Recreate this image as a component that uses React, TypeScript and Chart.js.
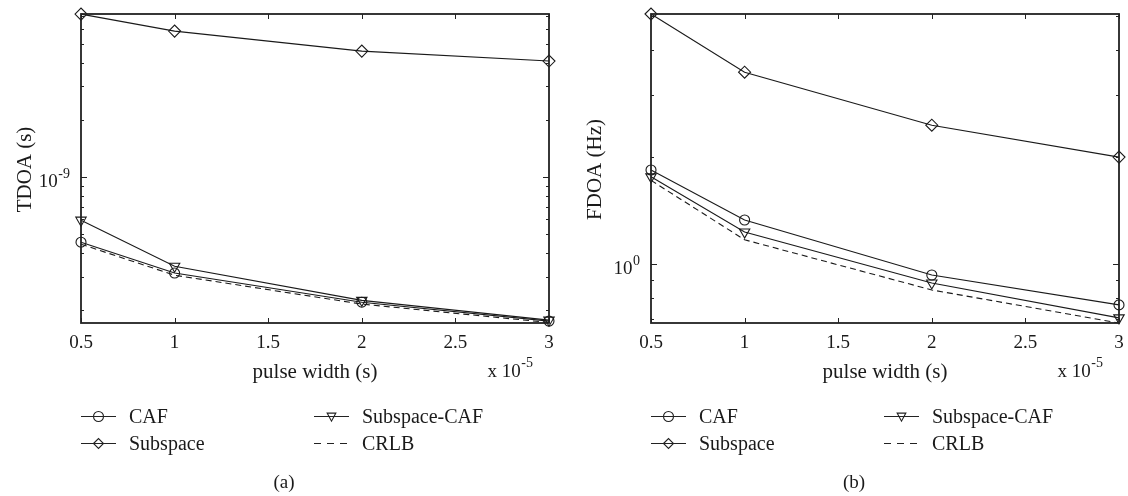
import React, { useEffect, useRef } from 'react';
import { Chart, registerables } from 'chart.js';

Chart.register(...registerables);

// ---------- data ----------
const pulseWidths = [0.5, 1, 2, 3]; // x 10^-5 s
const xTicks = [0.5, 1, 1.5, 2, 2.5, 3];
const xTickLabels = ['0.5', '1', '1.5', '2', '2.5', '3'];

const tdoaCAF = [4.55e-10, 3.13e-10, 2.2e-10, 1.75e-10];
const tdoaSubspace = [7.2e-9, 5.86e-9, 4.6e-9, 4.08e-9];
const tdoaSubspaceCAF = [5.94e-10, 3.4e-10, 2.25e-10, 1.77e-10];
const tdoaCRLB = [4.44e-10, 3.05e-10, 2.15e-10, 1.72e-10];

const fdoaCAF = [1.84, 1.33, 0.931, 0.767];
const fdoaSubspace = [5.06, 3.47, 2.46, 2.0];
const fdoaSubspaceCAF = [1.76, 1.23, 0.884, 0.705];
const fdoaCRLB = [1.72, 1.17, 0.845, 0.682];

const tdoaRange = [1.71e-10, 7.21e-9];
const fdoaRange = [0.682, 5.06];
const tdoaMajor = [1e-9];
const tdoaMajorExp = ['-9'];
const tdoaMinor = [2e-10, 3e-10, 4e-10, 5e-10, 6e-10, 7e-10, 8e-10, 9e-10, 2e-9, 3e-9, 4e-9, 5e-9, 6e-9, 7e-9];
const fdoaMajor = [1];
const fdoaMajorExp = ['0'];
const fdoaMinor = [0.7, 0.8, 0.9, 2, 3, 4, 5];

const seriesNames = ['CAF', 'Subspace', 'Subspace-CAF', 'CRLB'];
const xTitle = 'pulse width (s)';

const FONT = '"Liberation Serif", "Times New Roman", serif';
const INK = '#1a1a1a';

type PanelProps = {
  values: number[][];
  range: number[];
  major: number[];
  majorExp: string[];
  minor: number[];
  yTitle: string;
  caption: string;
  padLeft: number;
  padRight: number;
};

function drawMarker(ctx: CanvasRenderingContext2D, kind: string, x: number, y: number, r: number) {
  ctx.beginPath();
  if (kind === 'circle') {
    ctx.arc(x, y, r, 0, Math.PI * 2);
  } else if (kind === 'diamond') {
    ctx.moveTo(x - r, y);
    ctx.lineTo(x, y - r);
    ctx.lineTo(x + r, y);
    ctx.lineTo(x, y + r);
    ctx.closePath();
  } else if (kind === 'triangle') {
    const h = r * 1.5;
    ctx.moveTo(x - r * 0.87, y - h / 2.2);
    ctx.lineTo(x + r * 0.87, y - h / 2.2);
    ctx.lineTo(x, y + h / 1.6);
    ctx.closePath();
  }
  ctx.stroke();
}

function Panel(props: PanelProps) {
  const ref = useRef<HTMLCanvasElement | null>(null);

  useEffect(() => {
    if (!ref.current) return;
    const { values, range, major, majorExp, minor, yTitle, caption, padLeft, padRight } = props;
    const mk = (arr: number[]) => pulseWidths.map((x, i) => ({ x, y: arr[i] }));

    const base = {
      borderColor: INK,
      borderWidth: 1.1,
      pointBorderColor: INK,
      pointBackgroundColor: 'rgba(0,0,0,0)',
      pointBorderWidth: 1.1,
      pointRadius: 5,
      tension: 0,
      clip: false as const,
    };

    const decor = {
      id: 'decor',
      afterDraw(chart: any) {
        const { ctx, chartArea: a } = chart;
        const xs = chart.scales.x;
        const ys = chart.scales.y;
        ctx.save();
        ctx.strokeStyle = '#222';
        ctx.fillStyle = INK;
        // frame
        ctx.lineWidth = 1.8;
        ctx.strokeRect(a.left, a.top, a.right - a.left, a.bottom - a.top);
        ctx.lineWidth = 1;
        // x ticks
        ctx.font = `19px ${FONT}`;
        ctx.textAlign = 'center';
        ctx.textBaseline = 'middle';
        xTicks.forEach((v, i) => {
          const px = Math.round(xs.getPixelForValue(v)) + 0.5;
          ctx.beginPath();
          ctx.moveTo(px, a.bottom);
          ctx.lineTo(px, a.bottom - 5);
          ctx.moveTo(px, a.top);
          ctx.lineTo(px, a.top + 5);
          ctx.stroke();
          ctx.fillText(xTickLabels[i], xs.getPixelForValue(v), a.bottom + 20);
        });
        // y minor ticks
        minor.forEach((v) => {
          const py = Math.round(ys.getPixelForValue(v)) + 0.5;
          if (py < a.top + 1 || py > a.bottom - 1) return;
          ctx.beginPath();
          ctx.moveTo(a.left, py);
          ctx.lineTo(a.left + 3, py);
          ctx.moveTo(a.right, py);
          ctx.lineTo(a.right - 3, py);
          ctx.stroke();
        });
        // y major ticks + labels
        major.forEach((v, i) => {
          const py = Math.round(ys.getPixelForValue(v)) + 0.5;
          ctx.beginPath();
          ctx.moveTo(a.left, py);
          ctx.lineTo(a.left + 6, py);
          ctx.moveTo(a.right, py);
          ctx.lineTo(a.right - 6, py);
          ctx.stroke();
          ctx.font = `14px ${FONT}`;
          const ws = ctx.measureText(majorExp[i]).width;
          const right = a.left - 11;
          ctx.textAlign = 'right';
          ctx.fillText(majorExp[i], right, py - 3);
          ctx.font = `19px ${FONT}`;
          ctx.fillText('10', right - ws - 0.5, py + 5);
        });
        // x title + exponent
        ctx.textAlign = 'center';
        ctx.font = `21px ${FONT}`;
        ctx.fillText(xTitle, (a.left + a.right) / 2, a.bottom + 49);
        ctx.font = `14px ${FONT}`;
        const wsup = ctx.measureText('-5').width;
        ctx.textAlign = 'right';
        const xr = a.right - 16;
        ctx.fillText('-5', xr, a.bottom + 40);
        ctx.font = `19px ${FONT}`;
        ctx.fillText('x 10', xr - wsup - 0.5, a.bottom + 49);
        // y title
        ctx.save();
        ctx.translate(a.left - 56, (a.top + a.bottom) / 2 + 1);
        ctx.rotate(-Math.PI / 2);
        ctx.textAlign = 'center';
        ctx.font = `21px ${FONT}`;
        ctx.fillText(yTitle, 0, 0);
        ctx.restore();
        // legend
        const rows = [a.bottom + 93, a.bottom + 120];
        const cols = [a.left, a.left + 233];
        const kinds = ['circle', 'diamond', 'triangle', 'dash'];
        ctx.font = `20px ${FONT}`;
        ctx.textAlign = 'left';
        seriesNames.forEach((name, i) => {
          const cx = cols[Math.floor(i / 2)];
          const cy = Math.round(rows[i % 2]) + 0.5;
          ctx.lineWidth = 1.1;
          ctx.beginPath();
          if (kinds[i] === 'dash') ctx.setLineDash([7, 6]);
          ctx.moveTo(cx, cy);
          ctx.lineTo(cx + 35, cy);
          ctx.stroke();
          ctx.setLineDash([]);
          if (kinds[i] !== 'dash') drawMarker(ctx, kinds[i], cx + 17.5, cy, 5);
          ctx.fillText(name, cx + 48, cy + 1);
        });
        // caption
        ctx.textAlign = 'center';
        ctx.font = `19px ${FONT}`;
        ctx.fillText(caption, a.left + 203, a.bottom + 160);
        ctx.restore();
      },
    };

    const chart = new Chart(ref.current, {
      type: 'line',
      data: {
        datasets: [
          { ...base, label: seriesNames[0], data: mk(values[0]), pointStyle: 'circle' },
          { ...base, label: seriesNames[1], data: mk(values[1]), pointStyle: 'rectRot', pointRadius: 6 },
          { ...base, label: seriesNames[2], data: mk(values[2]), pointStyle: 'triangle', pointRotation: 180, pointRadius: 6 },
          { ...base, label: seriesNames[3], data: mk(values[3]), pointRadius: 0, borderDash: [6, 4] },
        ],
      },
      options: {
        animation: false,
        responsive: false,
        events: [],
        layout: { padding: { left: padLeft, right: padRight, top: 14, bottom: 173 } },
        scales: {
          x: { type: 'linear', min: 0.5, max: 3, display: false },
          y: { type: 'logarithmic', min: range[0], max: range[1], display: false },
        },
        plugins: { legend: { display: false }, tooltip: { enabled: false } },
      },
      plugins: [decor],
    });
    return () => chart.destroy();
  }, []);

  return <canvas ref={ref} width={564} height={496} style={{ width: 564, height: 496, display: 'block' }} />;
}

export default function App() {
  return (
    <div style={{ position: 'fixed', left: 0, top: 0, width: 1128, height: 496, background: '#fff', display: 'flex' }}>
      <Panel
        values={[tdoaCAF, tdoaSubspace, tdoaSubspaceCAF, tdoaCRLB]}
        range={tdoaRange}
        major={tdoaMajor}
        majorExp={tdoaMajorExp}
        minor={tdoaMinor}
        yTitle="TDOA (s)"
        caption="(a)"
        padLeft={81}
        padRight={15}
      />
      <Panel
        values={[fdoaCAF, fdoaSubspace, fdoaSubspaceCAF, fdoaCRLB]}
        range={fdoaRange}
        major={fdoaMajor}
        majorExp={fdoaMajorExp}
        minor={fdoaMinor}
        yTitle="FDOA (Hz)"
        caption="(b)"
        padLeft={87}
        padRight={9}
      />
    </div>
  );
}
